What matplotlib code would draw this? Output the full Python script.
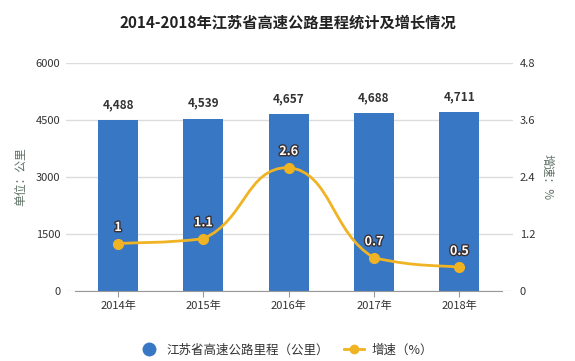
import numpy as np
import matplotlib
matplotlib.use('Agg')
import matplotlib.pyplot as plt
import matplotlib.patheffects as pe
from matplotlib.path import Path
from matplotlib.patches import PathPatch
from matplotlib.lines import Line2D

plt.rcParams['font.family'] = ['Noto Sans CJK SC', 'DejaVu Sans']

# data
years = ['2014年', '2015年', '2016年', '2017年', '2018年']
mileage = [4488, 4539, 4657, 4688, 4711]
growth = [1, 1.1, 2.6, 0.7, 0.5]
mileage_labels = ['4,488', '4,539', '4,657', '4,688', '4,711']
growth_labels = ['1', '1.1', '2.6', '0.7', '0.5']

bar_color = '#3877c4'
line_color = '#f0b323'
text_color = '#333333'
grid_color = '#dcdcdc'

fig = plt.figure(figsize=(5.75, 3.61), dpi=100)
ax = fig.add_axes([66/575, 1 - 291/361, (513 - 66)/575, (291 - 63)/361])
x = np.arange(len(years))

# grid first, below bars
ax.set_ylim(0, 6000)
ax.set_yticks([0, 1500, 3000, 4500, 6000])
ax.yaxis.grid(True, color=grid_color, linewidth=1)
ax.set_axisbelow(True)

ax.bar(x, mileage, width=0.47, color=bar_color, zorder=2)
for xi, v, lab in zip(x, mileage, mileage_labels):
    ax.text(xi, v + 230, lab, ha='center', va='bottom', fontsize=8.5,
            fontweight='bold', color=text_color, zorder=5)

ax.set_xlim(-0.61, 4.63)
ax.set_xticks(x)
ax.set_xticklabels(years, fontsize=8, color=text_color)
ax.tick_params(axis='x', length=4, color='#999999', pad=3)
ax.tick_params(axis='y', length=0, labelsize=8, labelcolor=text_color, pad=4)
for s in ['top', 'left', 'right']:
    ax.spines[s].set_visible(False)
ax.spines['bottom'].set_bounds(-0.5, 4.5)
ax.spines['bottom'].set_color('#999999')

ax.set_ylabel('单位：公里', fontsize=8.5, color='#5f7266', labelpad=6)

ax2 = ax.twinx()
ax2.set_ylim(0, 4.8)
ax2.set_yticks([0, 1.2, 2.4, 3.6, 4.8])
ax2.set_yticklabels(['0', '1.2', '2.4', '3.6', '4.8'])
ax2.tick_params(axis='y', length=0, labelsize=8, labelcolor=text_color, pad=5)
for s in ['top', 'left', 'right', 'bottom']:
    ax2.spines[s].set_visible(False)
ax2.set_ylabel('增速：%', fontsize=8.5, color='#5f7266', rotation=-90, labelpad=13)

# smooth line through the growth points, control points clamped per segment
pts = np.column_stack([x, growth]).astype(float)
k = 0.25
verts = [pts[0]]
codes = [Path.MOVETO]
for i in range(len(pts) - 1):
    p0 = pts[i - 1] if i > 0 else pts[i]
    p1 = pts[i]
    p2 = pts[i + 1]
    p3 = pts[i + 2] if i + 2 < len(pts) else pts[i + 1]
    c1 = p1 + (p2 - p0) * k
    c2 = p2 - (p3 - p1) * k
    lo, hi = min(p1[1], p2[1]), max(p1[1], p2[1])
    c1[1] = np.clip(c1[1], lo, hi)
    c2[1] = np.clip(c2[1], lo, hi)
    verts += [c1, c2, p2]
    codes += [Path.CURVE4] * 3
ax2.add_patch(PathPatch(Path(verts, codes), facecolor='none',
                        edgecolor=line_color, linewidth=2, zorder=3))
ax2.plot(x, growth, linestyle='none', marker='o', markersize=7,
         color=line_color, zorder=4)
for xi, v, lab in zip(x, growth, growth_labels):
    ax2.text(xi, v + 0.2, lab, ha='center', va='bottom', fontsize=9,
             fontweight='bold', color='white', zorder=5,
             path_effects=[pe.withStroke(linewidth=2, foreground='#3a3030')])

fig.text(0.5, 1 - 22/361, '2014-2018年江苏省高速公路里程统计及增长情况',
         ha='center', va='center', fontsize=11, fontweight='bold', color='#222222')

handles = [
    Line2D([], [], linestyle='none', marker='o', markersize=9, color=bar_color),
    Line2D([], [], color=line_color, linewidth=2, marker='o', markersize=6),
]
fig.legend(handles, ['江苏省高速公路里程（公里）', '增速（%）'], loc='center',
           bbox_to_anchor=(0.497, 1 - 350/361), ncol=2, frameon=False,
           fontsize=9, handlelength=1.6, columnspacing=1.2, handletextpad=0.6,
           labelcolor=text_color)

fig.savefig('out.png', dpi=100)
